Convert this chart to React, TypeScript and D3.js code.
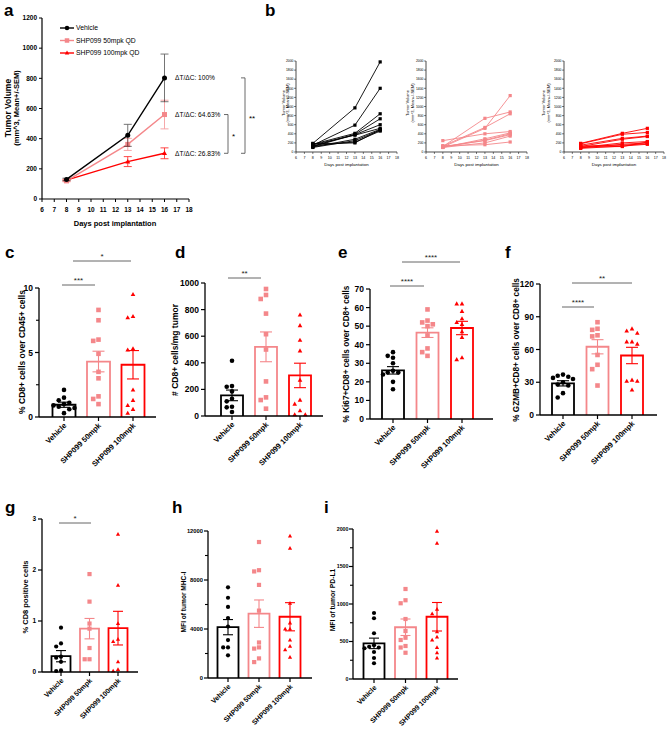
import React from 'react';
import * as d3 from 'd3';

const FONT = '"Liberation Sans", Arial, Helvetica, sans-serif';
const BLACK = '#000000';
const PINK = '#F4878A';
const RED = '#FF0000';
const COLORS = [BLACK, PINK, RED];
const SHAPES = ['circle', 'square', 'triangle'];

// ---------- Panel a ----------
const DAYS = [8, 13, 16];
const DAY_TICKS = [6, 7, 8, 9, 10, 11, 12, 13, 14, 15, 16, 17, 18];
const A_Y_TICKS = [0, 200, 400, 600, 800, 1000, 1200];
const A_SERIES = ['Vehicle', 'SHP099 50mpk QD', 'SHP099 100mpk QD'];
const vehMean = [130, 422, 803];
const vehSem = [8, 73, 158];
const mpk50Mean = [120, 362, 560];
const mpk50Sem = [6, 40, 95];
const mpk100Mean = [125, 248, 303];
const mpk100Sem = [6, 33, 36];
const DTDC = ['ΔT/ΔC: 100%', 'ΔT/ΔC: 64.63%', 'ΔT/ΔC: 26.83%'];

// ---------- Panel b (individual mice: day 8, 13, 16) ----------
const B_Y_TICKS = [0, 200, 400, 600, 800, 1000, 1200, 1400, 1600, 1800, 2000];
const bVehicle = [
  [190, 970, 1980], [150, 590, 1400], [170, 410, 840], [130, 390, 730], [120, 380, 600],
  [160, 370, 520], [110, 280, 500], [100, 250, 480], [140, 220, 460], [180, 200, 490],
];
const b50 = [
  [110, 520, 1240], [120, 740, 880], [130, 540, 840], [250, 400, 450], [100, 290, 420],
  [110, 260, 400], [120, 250, 380], [100, 200, 350], [140, 160, 220],
];
const b100 = [
  [190, 410, 520], [180, 390, 430], [150, 300, 350], [120, 280, 340], [100, 200, 230],
  [90, 170, 200], [130, 150, 180], [80, 130, 170], [110, 120, 220],
];

// ---------- Bar panels ----------
const CATS = ['Vehicle', 'SHP099 50mpk', 'SHP099 100mpk'];

const cVeh = [2.1, 1.5, 1.3, 1.1, 1.0, 0.9, 0.8, 0.7, 0.6, 0.3];
const c50 = [8.3, 7.5, 6.0, 5.9, 4.9, 3.5, 3.0, 1.6, 1.4, 1.0];
const c100 = [9.5, 7.8, 7.7, 5.3, 5.2, 2.1, 1.3, 0.9, 0.6, 0.3];
const cMean = [0.95, 4.3, 4.05];
const cSem = [0.2, 0.8, 1.1];

const dVeh = [415, 225, 220, 185, 130, 110, 70, 65, 30];
const d50 = [955, 910, 880, 770, 615, 500, 260, 140, 120, 55];
const d100 = [760, 680, 570, 490, 270, 120, 90, 40, 10, 10];
const dMean = [155, 520, 305];
const dSem = [40, 112, 92];

const eVeh = [36, 34, 33, 30, 26, 25, 25, 24, 20, 16];
const e50 = [59, 53, 52, 51, 50, 45, 38, 36, 34];
const e100 = [62, 62, 58, 54, 52, 51, 47, 44, 33, 32];
const eMean = [26.2, 46.5, 49];
const eSem = [2, 2.6, 3.6];

const fVeh = [37, 36, 35, 34, 33, 30, 28, 27, 20, 16];
const f50 = [85, 79, 78, 73, 72, 55, 46, 42, 27];
const f100 = [79, 77, 75, 67, 67, 65, 32, 31, 31, 23];
const fMean = [29, 62.5, 54.5];
const fSem = [2.4, 6.5, 7.5];

const gVeh = [0.87, 0.56, 0.5, 0.3, 0.28, 0.2, 0.03, 0.02];
const g50 = [1.92, 1.38, 0.95, 0.85, 0.47, 0.25, 0.25];
const g100 = [2.7, 1.7, 0.95, 0.64, 0.6, 0.2, 0.05, 0.02];
const gMean = [0.31, 0.85, 0.86];
const gSem = [0.11, 0.2, 0.33];

const hVeh = [7400, 6550, 5800, 4900, 4200, 3100, 2500, 2500, 1850];
const h50 = [11100, 8800, 8700, 7600, 5500, 2900, 2500, 2400, 1600, 1300];
const h100 = [11600, 10600, 6100, 4500, 4000, 4000, 3100, 2600, 2300, 1700];
const hMean = [4150, 5250, 5000];
const hSem = [620, 1120, 1150];

const iVeh = [880, 810, 610, 450, 430, 420, 410, 360, 280, 210];
const i50 = [1200, 1050, 1010, 800, 640, 550, 520, 440, 420, 350];
const i100 = [1970, 1810, 930, 870, 630, 560, 520, 420, 350, 280];
const iMean = [475, 690, 830];
const iSem = [70, 110, 190];

function Marker({ shape, x, y, color, size }: any) {
  if (shape === 'circle') return <circle cx={x} cy={y} r={size / 2} fill={color} />;
  if (shape === 'square')
    return <rect x={x - size / 2} y={y - size / 2} width={size} height={size} fill={color} />;
  const h = size * 0.9;
  return (
    <path
      d={`M${x},${y - h * 0.6} L${x + size / 2},${y + h * 0.4} L${x - size / 2},${y + h * 0.4} Z`}
      fill={color}
    />
  );
}

function swarm(vals: number[], y: any, d: number, maxOff: number) {
  const idx = vals.map((_, i) => i).sort((a, b) => vals[b] - vals[a]);
  const placed: { x: number; y: number }[] = [];
  const off = new Array(vals.length).fill(0);
  const cands: number[] = [0];
  for (let k = 1; k < 8; k++) {
    cands.push(-k * d);
    cands.push(k * d);
  }
  for (const i of idx) {
    const py = y(vals[i]);
    let best = 0;
    let bestScore = -1;
    for (const c0 of cands) {
      const c = Math.max(-maxOff, Math.min(maxOff, c0));
      let minD = Infinity;
      for (const p of placed) minD = Math.min(minD, Math.hypot(p.x - c, p.y - py));
      if (minD >= d) {
        best = c;
        bestScore = Infinity;
        break;
      }
      if (minD > bestScore) {
        bestScore = minD;
        best = c;
      }
    }
    off[i] = best;
    placed.push({ x: best, y: py });
  }
  return off;
}

function BarPanel({ cfg }: any) {
  const y = d3.scaleLinear().domain([0, cfg.max]).range([cfg.yBot, cfg.yTop]);
  const x = d3.scalePoint().domain(CATS).range([cfg.c0, cfg.c1]);
  const bw = cfg.bw;
  const fs = cfg.tickFs;
  const toff = cfg.tickOff ?? 6;
  return (
    <g fontFamily={FONT}>
      <text x={cfg.lx} y={cfg.ly} fontSize={17} fontWeight="bold">{cfg.letter}</text>
      {CATS.map((c, k) => {
        const cx = x(c)!;
        const top = y(cfg.mean[k]);
        return (
          <path
            key={c}
            d={`M${cx - bw / 2},${cfg.yBot} V${top} H${cx + bw / 2} V${cfg.yBot}`}
            fill="none"
            stroke={COLORS[k]}
            strokeWidth={1.8}
          />
        );
      })}
      {cfg.points.map((vals: number[], k: number) => {
        const cx = x(CATS[k])!;
        const off = swarm(vals, y, cfg.ms * 1.15, bw / 2 - 1);
        return vals.map((v, j) => (
          <Marker key={k + '-' + j} shape={SHAPES[k]} x={cx + off[j]} y={y(v)} color={COLORS[k]} size={cfg.ms} />
        ));
      })}
      {CATS.map((c, k) => {
        const cx = x(c)!;
        const hi = y(cfg.mean[k] + cfg.sem[k]);
        const lo = y(cfg.mean[k] - cfg.sem[k]);
        const cw = cfg.cap;
        return (
          <g key={'e' + c} stroke={COLORS[k]} strokeWidth={1.1}>
            <line x1={cx} x2={cx} y1={hi} y2={lo} />
            <line x1={cx - cw / 2} x2={cx + cw / 2} y1={hi} y2={hi} />
            <line x1={cx - cw / 2} x2={cx + cw / 2} y1={lo} y2={lo} />
          </g>
        );
      })}
      <line x1={cfg.ax} x2={cfg.ax} y1={cfg.yTop} y2={cfg.yBot} stroke="#000" strokeWidth={1.3} />
      <line x1={cfg.ax} x2={cfg.axEnd} y1={cfg.yBot} y2={cfg.yBot} stroke="#000" strokeWidth={1.3} />
      {cfg.ticks.map((t: number) => (
        <g key={'t' + t}>
          <line x1={cfg.ax - 4} x2={cfg.ax} y1={y(t)} y2={y(t)} stroke="#000" strokeWidth={1.2} />
          <text x={cfg.ax - toff} y={y(t) + fs * 0.36} fontSize={fs} fontWeight="bold" textAnchor="end">
            {t}
          </text>
        </g>
      ))}
      {(cfg.minor || []).map((t: number) => (
        <line key={'m' + t} x1={cfg.ax - 3} x2={cfg.ax} y1={y(t)} y2={y(t)} stroke="#000" strokeWidth={1.1} />
      ))}
      {CATS.map((c) => (
        <g key={'xl' + c}>
          <line x1={x(c)!} x2={x(c)!} y1={cfg.yBot} y2={cfg.yBot + 4} stroke="#000" strokeWidth={1.2} />
          <text
            transform={`translate(${x(c)! + 3},${cfg.yBot + 9}) rotate(-45)`}
            fontSize={cfg.catFs}
            fontWeight="bold"
            textAnchor="end"
          >
            {c}
          </text>
        </g>
      ))}
      <text
        transform={`translate(${cfg.tx},${cfg.ty}) rotate(-90)`}
        fontSize={cfg.titleFs}
        fontWeight="bold"
        textAnchor="middle"
      >
        {cfg.title}
      </text>
      {(cfg.sig || []).map((s: any, k: number) => (
        <g key={'s' + k}>
          <line x1={s.x1} x2={s.x2} y1={s.y} y2={s.y} stroke="#555" strokeWidth={0.9} />
          <text x={(s.x1 + s.x2) / 2} y={s.y - 2.5} fontSize={8} textAnchor="middle" fill="#222">
            {s.label}
          </text>
        </g>
      ))}
    </g>
  );
}

const PANELS = [
  {
    letter: 'c', lx: 5, ly: 258, ax: 39, axEnd: 156, c0: 64, c1: 133, bw: 23, yTop: 288, yBot: 417,
    max: 10, ticks: [0, 5, 10], minor: [2.5, 7.5], points: [cVeh, c50, c100], mean: cMean, sem: cSem,
    title: '% CD8+ cells over CD45+ cells', tx: 25, ty: 352, tickFs: 8.5, catFs: 7.5, titleFs: 8.5, ms: 4.6, cap: 12,
    sig: [{ x1: 62, x2: 95, y: 285, label: '***' }, { x1: 73, x2: 131, y: 261, label: '*' }],
  },
  {
    letter: 'd', lx: 175, ly: 258, ax: 205, axEnd: 323, c0: 232, c1: 300, bw: 22, yTop: 283, yBot: 416,
    max: 1000, ticks: [0, 200, 400, 600, 800, 1000], points: [dVeh, d50, d100], mean: dMean, sem: dSem,
    title: '# CD8+ cells/mg tumor', tx: 178, ty: 350, tickFs: 8.5, catFs: 7.5, titleFs: 8.5, ms: 4.6, cap: 12,
    sig: [{ x1: 228, x2: 261, y: 278, label: '**' }],
  },
  {
    letter: 'e', lx: 338, ly: 258, ax: 370, axEnd: 493, c0: 393, c1: 462, bw: 22, yTop: 289, yBot: 419,
    max: 70, ticks: [0, 10, 20, 30, 40, 50, 60, 70], points: [eVeh, e50, e100], mean: eMean, sem: eSem,
    title: '% Ki67+CD8+ cells over CD8+ cells', tx: 349, ty: 354, tickFs: 8.5, catFs: 7.5, titleFs: 8.2, ms: 4.6, cap: 12,
    sig: [{ x1: 390, x2: 424, y: 286, label: '****' }, { x1: 402, x2: 460, y: 262, label: '****' }],
  },
  {
    letter: 'f', lx: 505, ly: 258, ax: 540, axEnd: 657, c0: 563, c1: 632, bw: 22, yTop: 284, yBot: 415,
    max: 120, ticks: [0, 30, 60, 90, 120], points: [fVeh, f50, f100], mean: fMean, sem: fSem,
    title: '% GZMB+CD8+ cells over CD8+ cells', tx: 519, ty: 350, tickFs: 8.5, catFs: 7.5, titleFs: 8.2, ms: 4.6, cap: 12,
    sig: [{ x1: 562, x2: 594, y: 307, label: '****' }, { x1: 572, x2: 632, y: 283, label: '**' }],
  },
  {
    letter: 'g', lx: 5, ly: 513, ax: 42, axEnd: 138, c0: 61, c1: 118, bw: 19, yTop: 519, yBot: 672,
    max: 3, ticks: [0, 1, 2, 3], points: [gVeh, g50, g100], mean: gMean, sem: gSem,
    title: '% CD8 positive cells', tx: 27.5, ty: 597, tickFs: 6.5, catFs: 7, titleFs: 7.5, ms: 4.2, cap: 10,
    sig: [{ x1: 59, x2: 91, y: 523, label: '*' }],
  },
  {
    letter: 'h', lx: 172, ly: 513, ax: 208, axEnd: 312, c0: 228, c1: 290, bw: 21, yTop: 531, yBot: 678,
    max: 12000, ticks: [0, 4000, 8000, 12000], minor: [2000, 6000, 10000], points: [hVeh, h50, h100], mean: hMean, sem: hSem,
    title: 'MFI of tumor MHC-I', tx: 186, ty: 602, tickFs: 5.8, tickOff: 5, catFs: 7, titleFs: 6.6, ms: 4.2, cap: 10,
  },
  {
    letter: 'i', lx: 324, ly: 513, ax: 353, axEnd: 458, c0: 374, c1: 437, bw: 21, yTop: 529, yBot: 679,
    max: 2000, ticks: [0, 500, 1000, 1500, 2000], minor: [250, 750, 1250, 1750], points: [iVeh, i50, i100], mean: iMean, sem: iSem,
    title: 'MFI of tumor PD-L1', tx: 335, ty: 600, tickFs: 5.3, tickOff: 4.5, catFs: 7, titleFs: 6.8, ms: 4.2, cap: 10,
  },
];

function PanelA() {
  const x = d3.scaleLinear().domain([6, 18]).range([42, 189]);
  const y = d3.scaleLinear().domain([0, 1200]).range([199, 18]);
  const means = [vehMean, mpk50Mean, mpk100Mean];
  const sems = [vehSem, mpk50Sem, mpk100Sem];
  const line = d3.line<number>().x((_, i) => x(DAYS[i])).y((v) => y(v));
  const order = [2, 1, 0];
  const yV = y(vehMean[2]);
  const y5 = y(mpk50Mean[2]);
  const y1 = y(mpk100Mean[2]);
  return (
    <g fontFamily={FONT}>
      <text x={4} y={16} fontSize={17} fontWeight="bold">a</text>
      {order.map((k) => (
        <g key={k}>
          {DAYS.map((dd, i) => {
            const cx = x(dd);
            const hi = y(means[k][i] + sems[k][i]);
            const lo = y(means[k][i] - sems[k][i]);
            return (
              <g key={i} stroke={COLORS[k]} strokeWidth={0.9} opacity={k === 0 ? 0.6 : 0.8}>
                <line x1={cx} x2={cx} y1={hi} y2={lo} />
                <line x1={cx - 4} x2={cx + 4} y1={hi} y2={hi} />
                <line x1={cx - 4} x2={cx + 4} y1={lo} y2={lo} />
              </g>
            );
          })}
          <path d={line(means[k])!} fill="none" stroke={COLORS[k]} strokeWidth={1.4} />
          {DAYS.map((dd, i) => (
            <Marker key={'m' + i} shape={SHAPES[k]} x={x(dd)} y={y(means[k][i])} color={COLORS[k]} size={5} />
          ))}
        </g>
      ))}
      {A_SERIES.map((s, k) => (
        <g key={s}>
          <line x1={60} x2={74} y1={28 + k * 12.5} y2={28 + k * 12.5} stroke={COLORS[k]} strokeWidth={1.4} />
          <Marker shape={SHAPES[k]} x={67} y={28 + k * 12.5} color={COLORS[k]} size={4.5} />
          <text x={76} y={28 + k * 12.5 + 2.4} fontSize={6.8}>{s}</text>
        </g>
      ))}
      {[yV, y5, y1].map((yy, k) => (
        <text key={k} x={175} y={yy + 2.4} fontSize={6.6}>{DTDC[k]}</text>
      ))}
      <path d={`M224,${y5} H228 V${y1} H224`} fill="none" stroke="#444" strokeWidth={0.8} />
      <text x={232} y={(y5 + y1) / 2 + 5} fontSize={8}>*</text>
      <path d={`M241,${yV} H245 V${y1} H241`} fill="none" stroke="#444" strokeWidth={0.8} />
      <text x={249} y={(yV + y1) / 2 + 5} fontSize={8}>**</text>
      <line x1={42} x2={42} y1={18} y2={199} stroke="#000" strokeWidth={1.2} />
      <line x1={42} x2={189} y1={199} y2={199} stroke="#000" strokeWidth={1.2} />
      {A_Y_TICKS.map((t) => (
        <g key={t}>
          <line x1={39} x2={42} y1={y(t)} y2={y(t)} stroke="#000" strokeWidth={1} />
          <text x={37} y={y(t) + 2.3} fontSize={6.5} fontWeight="bold" textAnchor="end">{t}</text>
        </g>
      ))}
      {DAY_TICKS.map((t) => (
        <g key={t}>
          <line x1={x(t)} x2={x(t)} y1={199} y2={202} stroke="#000" strokeWidth={1} />
          <text x={x(t)} y={212} fontSize={6.5} fontWeight="bold" textAnchor="middle">{t}</text>
        </g>
      ))}
      <text x={115} y={226} fontSize={7.5} fontWeight="bold" textAnchor="middle">Days post implantation</text>
      <text transform="translate(10.5,108) rotate(-90)" fontSize={8.5} fontWeight="bold" textAnchor="middle">Tumor Volume</text>
      <text transform="translate(19,108) rotate(-90)" fontSize={7.5} fontWeight="bold" textAnchor="middle">(mm^3, Mean+/-SEM)</text>
    </g>
  );
}

function PanelB({ data, color, x0, x1, tx }: any) {
  const x = d3.scaleLinear().domain([6, 18]).range([x0, x1]);
  const y = d3.scaleLinear().domain([0, 2000]).range([152, 61]);
  const line = d3.line<number>().x((_, i) => x(DAYS[i])).y((v) => y(v));
  return (
    <g fontFamily={FONT}>
      {data.map((m: number[], k: number) => (
        <g key={k}>
          <path d={line(m)!} fill="none" stroke={color} strokeWidth={0.9} />
          {m.map((v, i) => (
            <rect key={i} x={x(DAYS[i]) - 1.6} y={y(v) - 1.6} width={3.2} height={3.2} fill={color} />
          ))}
        </g>
      ))}
      <line x1={x0} x2={x0} y1={61} y2={152} stroke="#000" strokeWidth={0.7} />
      <line x1={x0} x2={x1} y1={152} y2={152} stroke="#000" strokeWidth={0.7} />
      {B_Y_TICKS.map((t) => (
        <g key={t}>
          <line x1={x0 - 2} x2={x0} y1={y(t)} y2={y(t)} stroke="#000" strokeWidth={0.5} />
          <text x={x0 - 2.5} y={y(t) + 1.2} fontSize={3.4} textAnchor="end">{t}</text>
        </g>
      ))}
      {DAY_TICKS.map((t) => (
        <g key={t}>
          <line x1={x(t)} x2={x(t)} y1={152} y2={154} stroke="#000" strokeWidth={0.5} />
          <text x={x(t)} y={158.5} fontSize={3.6} textAnchor="middle">{t}</text>
        </g>
      ))}
      <text x={(x0 + x1) / 2} y={166} fontSize={4.4} textAnchor="middle">Days post implantation</text>
      <text transform={`translate(${tx},103) rotate(-90)`} fontSize={4} textAnchor="middle">Tumor Volume</text>
      <text transform={`translate(${tx + 4.5},103) rotate(-90)`} fontSize={4} textAnchor="middle">(mm^3, Mean+/-SEM)</text>
    </g>
  );
}

export default function App() {
  return (
    <svg
      width={669}
      height={731}
      viewBox="0 0 669 731"
      style={{ position: 'absolute', left: 0, top: 0, background: '#fff' }}
    >
      <rect width={669} height={731} fill="#fff" />
      <PanelA />
      <text x={265} y={16} fontSize={17} fontWeight="bold" fontFamily={FONT}>b</text>
      <PanelB data={bVehicle} color={BLACK} x0={296} x1={397} tx={284.5} />
      <PanelB data={b50} color={PINK} x0={426} x1={527} tx={409} />
      <PanelB data={b100} color={RED} x0={564} x1={664} tx={545} />
      {PANELS.map((p) => (
        <BarPanel key={p.letter} cfg={p} />
      ))}
    </svg>
  );
}
